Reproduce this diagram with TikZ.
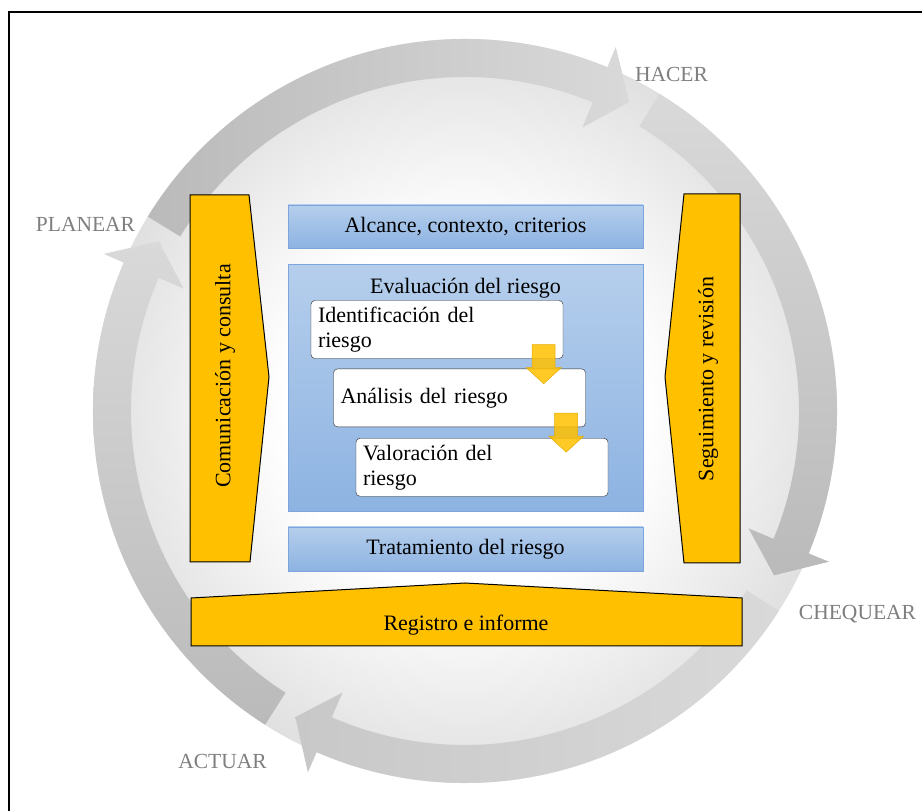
\documentclass[tikz,border=0pt]{standalone}
\usepackage{fontspec}
\setmainfont{Liberation Serif}
\usepackage{tikz}
\usetikzlibrary{positioning,calc}
\definecolor{orangeA}{HTML}{FFC000}
\definecolor{orangeB}{HTML}{E6AC00}
\definecolor{blueA}{HTML}{B5CEEC}
\definecolor{blueB}{HTML}{8DB3E2}
\definecolor{blueC}{HTML}{7BA5DC}
\definecolor{ringlight}{HTML}{D9D9D9}
\definecolor{ringmid}{HTML}{C8C8C8}
\definecolor{ringdark}{HTML}{BABABA}
\definecolor{bggrey}{HTML}{E0E0E0}
\definecolor{labelgrey}{RGB}{127,127,127}
\pgfdeclareradialshading{ringbg}{\pgfpoint{0bp}{0bp}}{color(0bp)=(white);
  color(12bp)=(white); color(25bp)=(bggrey); color(50bp)=(bggrey)}

\begin{document}
\begin{tikzpicture}[
  x=1pt, y=1pt,
  txt/.style={font=\fontsize{22}{25}\selectfont},
  bluebox/.style={rectangle, draw=blueC, top color=blueA, bottom color=blueB,
    minimum width=355pt, minimum height=43pt, inner sep=0pt,
    font=\fontsize{22}{25}\selectfont},
  stepbox/.style={rectangle, rounded corners=4pt, draw=black!85, fill=white,
    text width=238pt, inner xsep=7pt, minimum height=58pt, align=left,
    font=\fontsize{22}{25}\selectfont},
  panel/.style={draw=black, fill=orangeA, line width=1pt},
  downarr/.style={fill=orangeA, fill opacity=0.85, draw=orangeB, line width=0.5pt},
  lbl/.style={font=\fontsize{21.5}{24}\selectfont, text=labelgrey, anchor=base},
  ringA/.style={left color=ringdark, right color=ringlight},
  ringB/.style={top color=ringlight, bottom color=ringdark},
  ringC/.style={left color=ringmid, right color=ringlight},
  ringD/.style={top color=ringlight, bottom color=ringdark},
]
  \useasboundingbox (0,0) rectangle (922,811);
  \fill[white] (0,0) rectangle (922,811);

  \begin{scope}[shift={(465,400)}]
    \shade[shading=ringbg] (0,0) circle (372);
    \foreach \t/\s in {148.5/ringA, 58.5/ringB, -32.5/ringC, -122.5/ringD}
      \shade[\s] (\t:372) arc[start angle=\t, delta angle=-81, radius=372]
        -- (\t-81:394) -- (\t-86.5:350) -- (\t-81:307) -- (\t-81:334)
        arc[start angle=\t-81, delta angle=81, radius=334] -- cycle;
  \end{scope}

  \draw[line width=1.3pt] (9,0) -- (9,799) -- (922,799);

  \draw[panel] (190,616) -- (249,616) -- (269,434) -- (250,249) -- (190,249) -- cycle;
  \node[txt, rotate=90] (comm) at (225,435) {Comunicación y consulta};
  \draw[panel] (684,617) -- (740,617) -- (740,248) -- (684,248) -- (665,434) -- cycle;
  \node[txt, rotate=90] (segu) at (708,432) {Seguimiento y revisión};
  \draw[panel] (191,165) -- (742,165) -- (742,213) -- (465,228) -- (191,213) -- cycle;
  \node[txt] (regi) at (466,186) {Registro e informe};

  \node[bluebox] (alc) at (465.5,584.5) {Alcance, contexto, criterios};
  \node[bluebox, minimum height=247pt, below=16pt of alc] (eval) {};
  \node[txt] (evaltitle) at ($(eval.north)+(0,-24)$) {Evaluación del riesgo};
  \node[bluebox, minimum height=44pt, below=15pt of eval] (trat) {Tratamiento del riesgo};

  \node[stepbox] (ident) at (437,481.5) {Identificación del\\riesgo};
  \node[stepbox, below=10pt of ident, xshift=22.5pt] (anal) {Análisis del riesgo};
  \node[stepbox, below=11pt of anal, xshift=22.5pt] (valor) {Valoración del\\riesgo};

  \foreach \b in {ident, anal}
    \filldraw[downarr] ($(\b.south east)+(-31,14)$) -- ++(23,0) -- ++(0,-23)
      -- ++(6,0) -- ++(-17.5,-16) -- ++(-17.5,16) -- ++(6,0) -- cycle;

  \node[lbl] (hacer) at (671.5,729) {HACER};
  \node[lbl] (planear) at (85.5,579) {PLANEAR};
  \node[lbl] (chequear) at (857.5,191) {CHEQUEAR};
  \node[lbl] (actuar) at (222.5,42) {ACTUAR};
\end{tikzpicture}
\end{document}
